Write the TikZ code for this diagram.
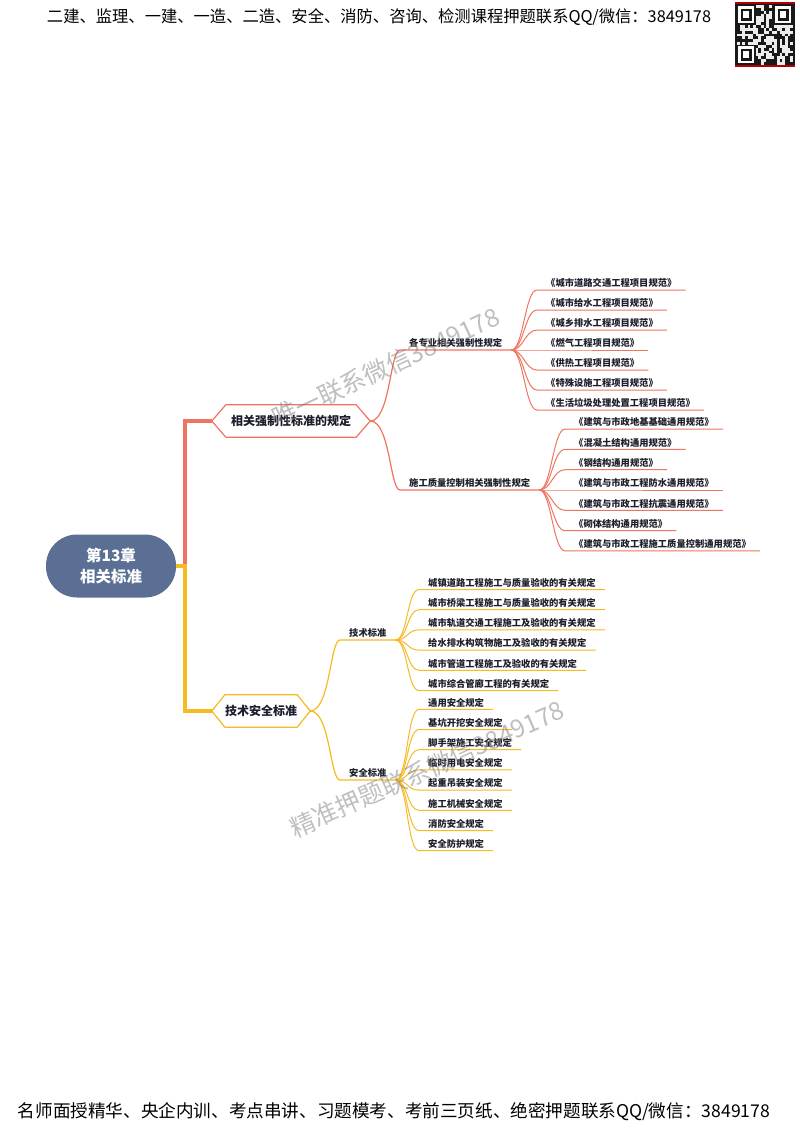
\documentclass[tikz,border=0pt]{standalone}
\usepackage{fontspec}
\newfontfamily\cjk{Noto Sans CJK SC}
\usetikzlibrary{calc}
\definecolor{rootblue}{RGB}{91,111,148}
\definecolor{linered}{RGB}{240,116,98}
\definecolor{lineyellow}{RGB}{246,187,34}
\definecolor{inkdark}{RGB}{28,30,42}
\tikzset{
  leaf/.style={font=\cjk\bfseries\fontsize{9.3}{11}\selectfont, text=inkdark, anchor=south west,
    inner xsep=9pt, inner ysep=2pt, text height=7pt, text depth=1pt},
  hexbox/.style={font=\cjk\bfseries\fontsize{12}{14}\selectfont, text=inkdark, inner sep=0pt,
    minimum height=32pt},
  redline/.style={linered, line width=1pt},
  yellowline/.style={lineyellow, line width=1pt},
  banner/.style={font=\cjk\fontsize{16.3}{18}\selectfont, text=black},
  watermark/.style={font=\cjk\fontsize{25}{27}\selectfont, text=gray, text opacity=0.5},
}
\begin{document}
\begin{tikzpicture}[x=1pt,y=-1pt]
  \useasboundingbox (0,0) rectangle (800,1130);
  \fill[white] (0,0) rectangle (800,1130);
  % header, footer
  \node[banner] (head) at (379,17) {二建、监理、一建、一造、二造、安全、消防、咨询、检测课程押题联系QQ/微信：3849178};
  \node[banner, font=\cjk\fontsize{17.6}{19}\selectfont] (foot) at (394,1112) {名师面授精华、央企内训、考点串讲、习题模考、考前三页纸、绝密押题联系QQ/微信：3849178};
  % qr code
  \fill[black!90] (735,3) rectangle (795,66);
  \pgfmathsetseed{17}
  \foreach \r in {0,...,20}{
    \foreach \c in {0,...,20}{
      \pgfmathrandominteger{\q}{0}{1}
      \ifnum\q=1 \fill[white!85!gray] ({737+\c*2.66},{5+\r*2.85}) rectangle ++(2.66,2.85); \fi
    }
  }
  \foreach \qx/\qy in {737/5, 774.4/5, 737/45.1}{
    \fill[black!90] (\qx,\qy) rectangle ++(19,20);
    \fill[white] ({\qx+1},{\qy+1}) rectangle ++(16,17);
    \fill[black!90] ({\qx+3.5},{\qy+3.5}) rectangle ++(11,12);
    \fill[white] ({\qx+6},{\qy+6}) rectangle ++(6,7);
  }
  \draw[red!70!black, line width=1.5pt] (735,3) -- (795,3) (735,66) -- (795,66);
  % root and main branches
  \node[fill=rootblue, rounded corners=31pt, minimum width=130pt, minimum height=63pt, align=center,
    text=white, font=\cjk\bfseries\fontsize{15.5}{21}\selectfont] (root) at (111,566) {第13章\\相关标准};
  \node[hexbox, minimum width=130pt] (b1) at (291,421) {相关强制性标准的规定};
  \node[hexbox, minimum width=72pt] (b2) at (261,711) {技术安全标准};
  \coordinate (b1w) at ([xshift=-14pt]b1.west);
  \coordinate (b1e) at ([xshift=14pt]b1.east);
  \coordinate (b2w) at ([xshift=-13pt]b2.west);
  \coordinate (b2e) at ([xshift=13pt]b2.east);
  \draw[linered, line width=1.2pt] (b1w) -- (b1.north west) -- (b1.north east) -- (b1e) -- (b1.south east) -- (b1.south west) -- cycle;
  \draw[lineyellow, line width=1.2pt] (b2w) -- (b2.north west) -- (b2.north east) -- (b2e) -- (b2.south east) -- (b2.south west) -- cycle;
  \coordinate (split) at (185,566);
  \draw[linered, line width=3.5pt] (split) |- (b1w);
  \draw[lineyellow, line width=3.5pt] (root.east) -- (split) |- (b2w);
  % second level
  \node[leaf] (s1) at (400,350) {各专业相关强制性规定};
  \node[leaf] (s2) at (400,490) {施工质量控制相关强制性规定};
  \node[leaf] (s3) at (340,640) {技术标准};
  \node[leaf] (s4) at (340,780) {安全标准};
  \draw[redline, line width=1.2pt] (b1e) .. controls +(20,0) and +(-10,0) .. (s1.south west) -- (s1.south east);
  \draw[redline, line width=1.2pt] (b1e) .. controls +(20,0) and +(-10,0) .. (s2.south west) -- (s2.south east);
  \draw[yellowline, line width=1.2pt] (b2e) .. controls +(20,0) and +(-10,0) .. (s3.south west) -- (s3.south east);
  \draw[yellowline, line width=1.2pt] (b2e) .. controls +(20,0) and +(-10,0) .. (s4.south west) -- (s4.south east);
  % leaves
  \foreach \t [count=\i] in {《城市道路交通工程项目规范》,《城市给水工程项目规范》,《城乡排水工程项目规范》,《燃气工程项目规范》,《供热工程项目规范》,《特殊设施工程项目规范》,《生活垃圾处理处置工程项目规范》}{
    \node[leaf] (p\i) at (537,{350+(\i-4)*20}) {\t};
    \draw[redline] (s1.south east) .. controls +(12,0) and +(-12,0) .. (p\i.south west) -- (p\i.south east);
  }
  \foreach \t [count=\i] in {《建筑与市政地基基础通用规范》,《混凝土结构通用规范》,《钢结构通用规范》,《建筑与市政工程防水通用规范》,《建筑与市政工程抗震通用规范》,《砌体结构通用规范》,《建筑与市政工程施工质量控制通用规范》}{
    \node[leaf] (q\i) at (565,{490+(\i-4)*20.3}) {\t};
    \draw[redline] (s2.south east) .. controls +(12,0) and +(-12,0) .. (q\i.south west) -- (q\i.south east);
  }
  \foreach \t [count=\i] in {城镇道路工程施工与质量验收的有关规定,城市桥梁工程施工与质量验收的有关规定,城市轨道交通工程施工及验收的有关规定,给水排水构筑物施工及验收的有关规定,城市管道工程施工及验收的有关规定,城市综合管廊工程的有关规定}{
    \node[leaf] (t\i) at (419,{640+(\i-3.5)*20.2}) {\t};
    \draw[yellowline] (s3.south east) .. controls +(12,0) and +(-12,0) .. (t\i.south west) -- (t\i.south east);
  }
  \foreach \t [count=\i] in {通用安全规定,基坑开挖安全规定,脚手架施工安全规定,临时用电安全规定,起重吊装安全规定,施工机械安全规定,消防安全规定,安全防护规定}{
    \node[leaf] (u\i) at (419,{780+(\i-4.5)*20.2}) {\t};
    \draw[yellowline] (s4.south east) .. controls +(12,0) and +(-12,0) .. (u\i.south west) -- (u\i.south east);
  }
  % watermarks
  \node[watermark, rotate=24.9] (wm1) at (386,367) {唯一联系微信3849178};
  \node[watermark, rotate=24] (wm2) at (427,769) {精准押题联系微信3849178};
\end{tikzpicture}
\end{document}
